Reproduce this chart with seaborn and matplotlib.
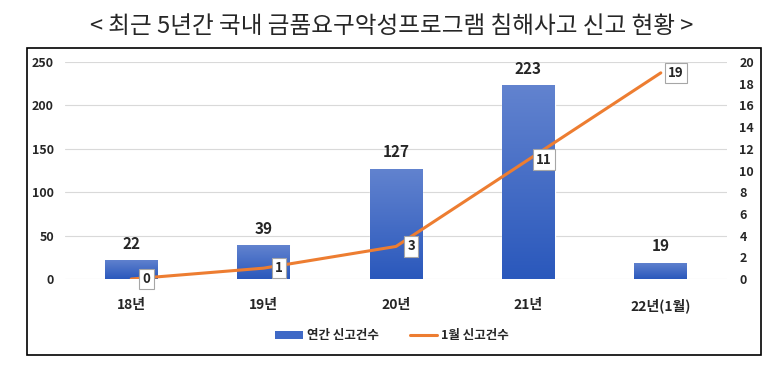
import numpy as np
import pandas as pd
import matplotlib.pyplot as plt
import seaborn as sns
from matplotlib.patches import Rectangle
from matplotlib.lines import Line2D
from matplotlib.patches import Patch

sns.set_style('white')
plt.rcParams['font.family'] = ['Noto Sans CJK KR', 'DejaVu Sans']

# data
years = ['18년', '19년', '20년', '21년', '22년(1월)']
annual_reports = [22, 39, 127, 223, 19]
january_reports = [0, 1, 3, 11, 19]

df = pd.DataFrame({'year': years, 'annual': annual_reports, 'jan': january_reports})

fig = plt.figure(figsize=(7.84, 3.65), dpi=100)
ax = fig.add_axes([65 / 784, 86 / 365, 662 / 784, 217 / 365])

# chart border
fig.patches.append(Rectangle((27 / 784, 10 / 365), 734 / 784, 307 / 365,
                             transform=fig.transFigure, fill=False,
                             edgecolor='black', linewidth=1.2))

fig.text(0.5, 0.927, '< 최근 5년간 국내 금품요구악성프로그램 침해사고 신고 현황 >',
         ha='center', va='center', fontsize=17)

sns.barplot(data=df, x='year', y='annual', color='#3F69C6', width=0.4,
            ax=ax, zorder=2)

# gradient fill on bars
grad = np.linspace(0, 1, 256).reshape(-1, 1)
cmap = sns.blend_palette(['#2A58BC', '#6283CF'], as_cmap=True)
for bar in ax.patches:
    x0, y0 = bar.get_x(), bar.get_y()
    w, h = bar.get_width(), bar.get_height()
    im = ax.imshow(grad, extent=[x0, x0 + w, y0, y0 + h], origin='lower',
                   aspect='auto', cmap=cmap, zorder=2)
    im.set_clip_path(bar)
    ax.annotate(f'{int(h)}', (x0 + w / 2, h), xytext=(0, 6),
                textcoords='offset points', ha='center', va='bottom',
                fontsize=11, fontweight='bold')

ax.set_xlim(-0.5, 4.5)
ax.set_ylim(0, 250)
ax.set_yticks(range(0, 251, 50))
ax.yaxis.grid(True, color='#D9D9D9', linewidth=0.8, zorder=0)
ax.set_axisbelow(True)
ax.set_xlabel('')
ax.set_ylabel('')
for s in ax.spines.values():
    s.set_visible(False)
ax.tick_params(axis='both', length=0, labelsize=9)
ax.tick_params(axis='x', pad=14, labelsize=10)
for t in ax.get_xticklabels() + ax.get_yticklabels():
    t.set_fontweight('bold')
ax.tick_params(axis='y', pad=8)

ax2 = ax.twinx()
sns.lineplot(x=np.arange(len(years)), y=january_reports, ax=ax2,
             color='#ED7D31', linewidth=2.2, zorder=3)
ax2.set_ylim(0, 20)
ax2.set_yticks(range(0, 21, 2))
for s in ax2.spines.values():
    s.set_visible(False)
ax2.tick_params(axis='y', length=0, labelsize=9, pad=9)
for t in ax2.get_yticklabels():
    t.set_fontweight('bold')
for i, v in enumerate(january_reports):
    ax2.annotate(f'{v}', (i, v), xytext=(11, 0), textcoords='offset points',
                 ha='center', va='center', fontsize=9.5, fontweight='bold',
                 bbox=dict(boxstyle='square,pad=0.25', facecolor='white',
                           edgecolor='#A6A6A6', linewidth=0.8), zorder=5)

handles = [Patch(facecolor='#3F69C6', edgecolor='none'),
           Line2D([0], [0], color='#ED7D31', linewidth=2.2)]
fig.legend(handles, ['연간 신고건수', '1월 신고건수'], loc='center',
           bbox_to_anchor=(0.5, 29 / 365), ncol=2, frameon=False,
           prop={'weight': 'bold', 'size': 9}, handlelength=2.2,
           handleheight=0.6, columnspacing=2.5, handletextpad=0.3)

fig.savefig('out.png', dpi=100)
